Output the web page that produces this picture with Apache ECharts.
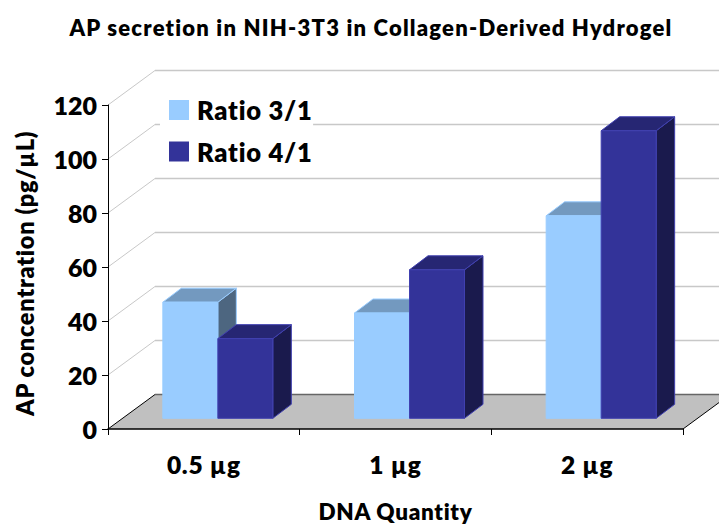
<!DOCTYPE html>
<html>
<head>
<meta charset="utf-8">
<script src="https://cdn.jsdelivr.net/npm/echarts@6/dist/echarts.min.js"></script>
<style>
  html, body { margin: 0; padding: 0; background: #fff; }
  #main { width: 719px; height: 524px; }
  #main text { letter-spacing: 0.03em; }
  #main text[style*="22px"] { letter-spacing: 0.055em; } /* title */
  #main text[style*="25px"] { letter-spacing: 0; }       /* y tick labels */
</style>
</head>
<body>
<div id="main"></div>
<script>
var categories = ['0.5 µg', '1 µg', '2 µg'];
var ratio31 = [43, 39, 75];
var ratio41 = [29.5, 55, 106.5];
var wallTicks = [20, 40, 60, 80, 100, 120];

// fake 3D offsets, in px
var wallDx = 47, wallDy = -34.5;   // floor/wall depth
var insetDx = 14, insetDy = -10.7; // bars stand a bit inside the floor
var barDx = 18.5, barDy = -14;     // bar depth
var barW = 55;
var font = 'Lato, sans-serif';

function poly(points, fill, stroke) {
  return {
    type: 'polygon',
    shape: { points: points },
    style: { fill: fill, stroke: stroke, lineWidth: 1 }
  };
}

function line(x1, y1, x2, y2, color, width) {
  return {
    type: 'line',
    shape: { x1: x1, y1: y1, x2: x2, y2: y2 },
    style: { stroke: color, lineWidth: width, fill: null }
  };
}

// side: -1 draws left of the group centre, 0 right of it
function barRenderer(side, front, top, right, edge) {
  return function (params, api) {
    var p = api.coord([api.value(0), api.value(1)]);
    var b = api.coord([api.value(0), 0]);
    var x0 = p[0] + insetDx + side * barW, x1 = x0 + barW;
    var y0 = p[1] + insetDy, y1 = b[1] + insetDy;
    return {
      type: 'group',
      children: [
        poly([[x1, y0], [x1 + barDx, y0 + barDy], [x1 + barDx, y1 + barDy], [x1, y1]], right, edge),
        poly([[x0, y0], [x0 + barDx, y0 + barDy], [x1 + barDx, y0 + barDy], [x1, y0]], top, edge),
        poly([[x0, y0], [x1, y0], [x1, y1], [x0, y1]], front, edge)
      ]
    };
  };
}

function wallRenderer(params, api) {
  var p = api.coord([0, api.value(0)]);
  var left = params.coordSys.x;
  var right = left + params.coordSys.width;
  var y = p[1];
  return {
    type: 'group',
    children: [
      line(left, y, left + wallDx, y + wallDy, '#c8c8c8', 1),
      line(left + wallDx, y + wallDy, right + wallDx, y + wallDy, '#c8c8c8', 1.5)
    ]
  };
}

function floorRenderer(params, api) {
  var y = api.coord([0, 0])[1];
  var left = params.coordSys.x;
  var right = left + params.coordSys.width;
  return {
    type: 'group',
    children: [
      poly([[left, y], [left + wallDx, y + wallDy], [right + wallDx, y + wallDy], [right, y]], '#c0c0c0', null),
      line(left + wallDx, y + wallDy, right + wallDx, y + wallDy, '#666666', 1.5),
      line(left, y, left + wallDx, y + wallDy, '#000000', 1),
      line(right, y, right + wallDx, y + wallDy, '#000000', 1)
    ]
  };
}

var chart = echarts.init(document.getElementById('main'), null, { renderer: 'svg' });
chart.setOption({
  animation: false,
  backgroundColor: '#fff',
  title: {
    text: 'AP secretion in NIH-3T3 in Collagen-Derived Hydrogel',
    left: 366,
    top: 11,
    textAlign: 'center',
    textStyle: { fontFamily: font, fontSize: 22, fontWeight: 800, color: '#000' }
  },
  legend: {
    orient: 'vertical',
    left: 160,
    top: 90,
    padding: [7, 7, 7, 9],
    backgroundColor: '#fff',
    itemWidth: 20,
    itemHeight: 20,
    itemGap: 15.5,
    icon: 'rect',
    data: ['Ratio 3/1', 'Ratio 4/1'],
    textStyle: { fontFamily: font, fontSize: 25.5, fontWeight: 800, color: '#000', padding: [0, 0, 0, 3] }
  },
  grid: { left: 108, top: 105, width: 575, height: 324, outerBoundsMode: 'none' },
  xAxis: {
    type: 'category',
    data: categories,
    z: 5,
    name: 'DNA Quantity',
    nameLocation: 'middle',
    nameGap: 71,
    nameTextStyle: { fontFamily: font, fontSize: 22.5, fontWeight: 800, color: '#000' },
    axisLine: { show: true, lineStyle: { color: '#000', width: 1.5 } },
    axisTick: { show: true, length: 6, lineStyle: { color: '#000', width: 1 } },
    axisLabel: { margin: 23, fontFamily: font, fontSize: 24.5, fontWeight: 800, color: '#000' }
  },
  yAxis: {
    type: 'value',
    min: 0,
    max: 120,
    interval: 20,
    z: 5,
    name: 'AP concentration (pg/µL)',
    nameLocation: 'middle',
    nameGap: 71,
    nameTextStyle: { fontFamily: font, fontSize: 23.5, fontWeight: 800, color: '#000', padding: [0, 13, 0, 0] },
    splitLine: { show: false },
    axisLine: { show: true, lineStyle: { color: '#000', width: 1 } },
    axisTick: { show: true, length: 6, lineStyle: { color: '#000', width: 1 } },
    axisLabel: { margin: 11, fontFamily: font, fontSize: 25, fontWeight: 800, color: '#000' }
  },
  series: [
    {
      type: 'custom',
      silent: true,
      z: 1,
      renderItem: wallRenderer,
      encode: { y: 0 },
      data: wallTicks.map(function (v) { return [v]; })
    },
    {
      type: 'custom',
      silent: true,
      z: 1,
      renderItem: floorRenderer,
      data: [[0]]
    },
    {
      name: 'Ratio 3/1',
      type: 'custom',
      z: 2,
      itemStyle: { color: '#99ccff' },
      renderItem: barRenderer(-1, '#99ccff', '#7399bf', '#4d6680', '#99ccff'),
      encode: { x: 0, y: 1 },
      data: ratio31.map(function (v, i) { return [i, v]; })
    },
    {
      name: 'Ratio 4/1',
      type: 'custom',
      z: 3,
      itemStyle: { color: '#333399' },
      renderItem: barRenderer(0, '#333399', '#262673', '#1a1a4d', '#4040b0'),
      encode: { x: 0, y: 1 },
      data: ratio41.map(function (v, i) { return [i, v]; })
    }
  ]
});
</script>
</body>
</html>
